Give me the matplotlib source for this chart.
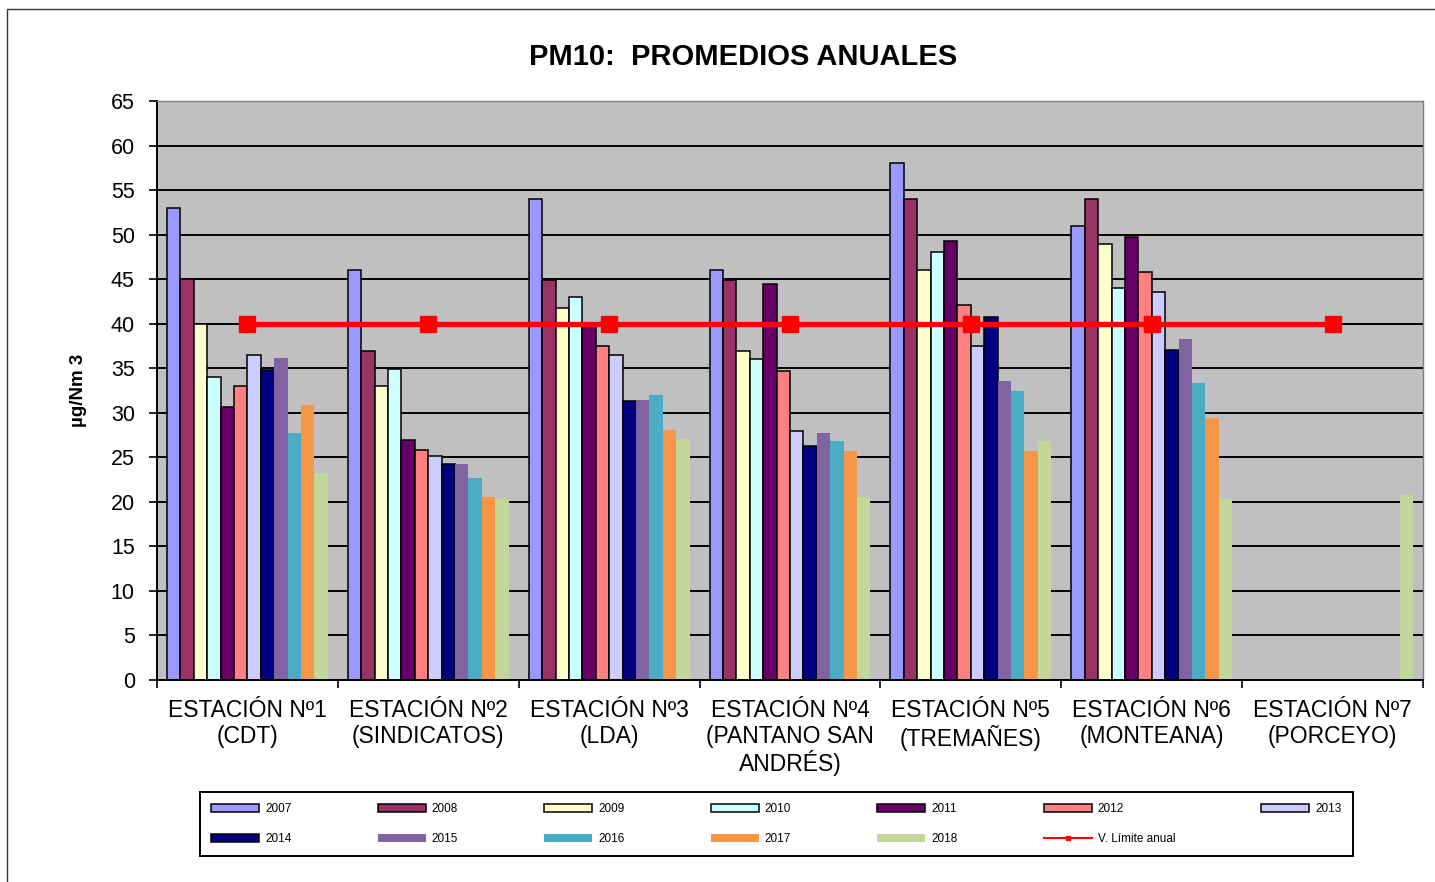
import numpy as np
import matplotlib as mpl
mpl.use('agg')
import matplotlib.pyplot as plt
from matplotlib.lines import Line2D
from matplotlib.patches import Rectangle

plt.rcParams['font.family'] = ['Liberation Sans', 'DejaVu Sans']

stations = ['ESTACIÓN Nº1\n(CDT)', 'ESTACIÓN Nº2\n(SINDICATOS)', 'ESTACIÓN Nº3\n(LDA)',
            'ESTACIÓN Nº4\n(PANTANO SAN\nANDRÉS)', 'ESTACIÓN Nº5\n(TREMAÑES)',
            'ESTACIÓN Nº6\n(MONTEANA)', 'ESTACIÓN Nº7\n(PORCEYO)']
years = ['2007', '2008', '2009', '2010', '2011', '2012', '2013',
         '2014', '2015', '2016', '2017', '2018']

# one list per station, values per year (nan = no data)
nan = np.nan
est1 = [53.0, 45.0, 40.0, 34.0, 30.7, 33.0, 36.5, 34.8, 36.1, 27.7, 30.9, 23.2]
est2 = [46.0, 36.9, 33.0, 34.9, 26.9, 25.8, 25.2, 24.2, 24.2, 22.7, 20.5, 20.3]
est3 = [54.0, 44.9, 41.8, 43.0, 39.8, 37.5, 36.5, 31.3, 31.4, 32.0, 28.1, 27.0]
est4 = [46.0, 44.9, 36.9, 36.0, 44.5, 34.7, 28.0, 26.3, 27.7, 26.8, 25.7, 20.5]
est5 = [58.0, 54.0, 46.0, 48.0, 49.3, 42.1, 37.5, 40.8, 33.6, 32.4, 25.7, 26.8]
est6 = [51.0, 54.0, 49.0, 44.0, 49.7, 45.8, 43.6, 37.1, 38.3, 33.3, 29.4, 20.3]
est7 = [nan, nan, nan, nan, nan, nan, nan, nan, nan, nan, nan, 20.8]
limite = [40, 40, 40, 40, 40, 40, 40]

colors = ['#9999FF', '#993366', '#FFFFCC', '#CCFFFF', '#660066', '#FF8080', '#CCCCFF',
          '#000080', '#8064A2', '#4BACC6', '#F79646', '#C4D79B']

data = np.array([est1, est2, est3, est4, est5, est6, est7])

fig = plt.figure(figsize=(14.35, 8.82), dpi=100)
fig.patches.append(Rectangle((7/1435, -0.1), 1.1, 1.1 - 9/882, transform=fig.transFigure,
                             fill=False, edgecolor='#333333', lw=1.0))

ax = fig.add_axes([157/1435, 1-680/882, (1423-157)/1435, (680-101)/882])
ax.set_facecolor('#C0C0C0')

x = np.arange(len(stations))
w = 1/13.5
handles = []
for i, yr in enumerate(years):
    if i < 8:
        b = ax.bar(x + (i-5.5)*w, data[:, i], w, color=colors[i], edgecolor='black',
                   linewidth=1.1, label=yr, zorder=2)
    else:
        b = ax.bar(x + (i-5.5)*w, data[:, i], w, color=colors[i], linewidth=0,
                   label=yr, zorder=2)
    handles.append(b)

ax.plot(x, limite, color='#FF0000', lw=3.8, marker='s', markersize=12, zorder=3)
handles.append(Line2D([], [], color='#FF0000', lw=1.5, marker='s', markersize=3.5))
labels = years + ['V. Límite anual']

ax.set_xlim(-0.5, 6.5)
ax.set_ylim(0, 65)
ax.set_yticks(np.arange(0, 66, 5))
ax.yaxis.grid(True, color='black', lw=1.4)
ax.set_axisbelow(True)
ax.tick_params(axis='y', labelsize=15.5, length=6, width=1.2, direction='out', pad=10)
ax.set_xticks(x)
ax.set_xticklabels(stations, fontsize=16.5, linespacing=1.12)
ax.tick_params(axis='x', length=0, pad=14)
ax.set_xticks(np.arange(-0.5, 7, 1), minor=True)
ax.tick_params(axis='x', which='minor', length=6, width=1.2, direction='out')
for s in ['left', 'bottom']:
    ax.spines[s].set_color('black')
    ax.spines[s].set_linewidth(1.4)
for s in ['top', 'right']:
    ax.spines[s].set_color('#808080')
    ax.spines[s].set_linewidth(1.0)

ax.set_ylabel('µg/Nm 3', fontsize=13.5, fontweight='bold', labelpad=17)

fig.text(743/1435, 1-57/882, 'PM10:  PROMEDIOS ANUALES', fontsize=21, fontweight='bold',
         ha='center', va='center')

order = [0, 7, 1, 8, 2, 9, 3, 10, 4, 11, 5, 12, 6]
leg = ax.legend([handles[k] for k in order], [labels[k] for k in order], ncol=7,
                loc='upper left', bbox_to_anchor=(200/1435, 1-792/882),
                bbox_transform=fig.transFigure, borderaxespad=0, fontsize=8.5,
                handlelength=4.07, handleheight=0.7, handletextpad=0.5,
                columnspacing=7.3, labelspacing=1.5, borderpad=0.95,
                fancybox=False, framealpha=1, edgecolor='black')
leg.get_frame().set_linewidth(1.4)

plt.savefig('out.png', dpi=100, facecolor='w')
